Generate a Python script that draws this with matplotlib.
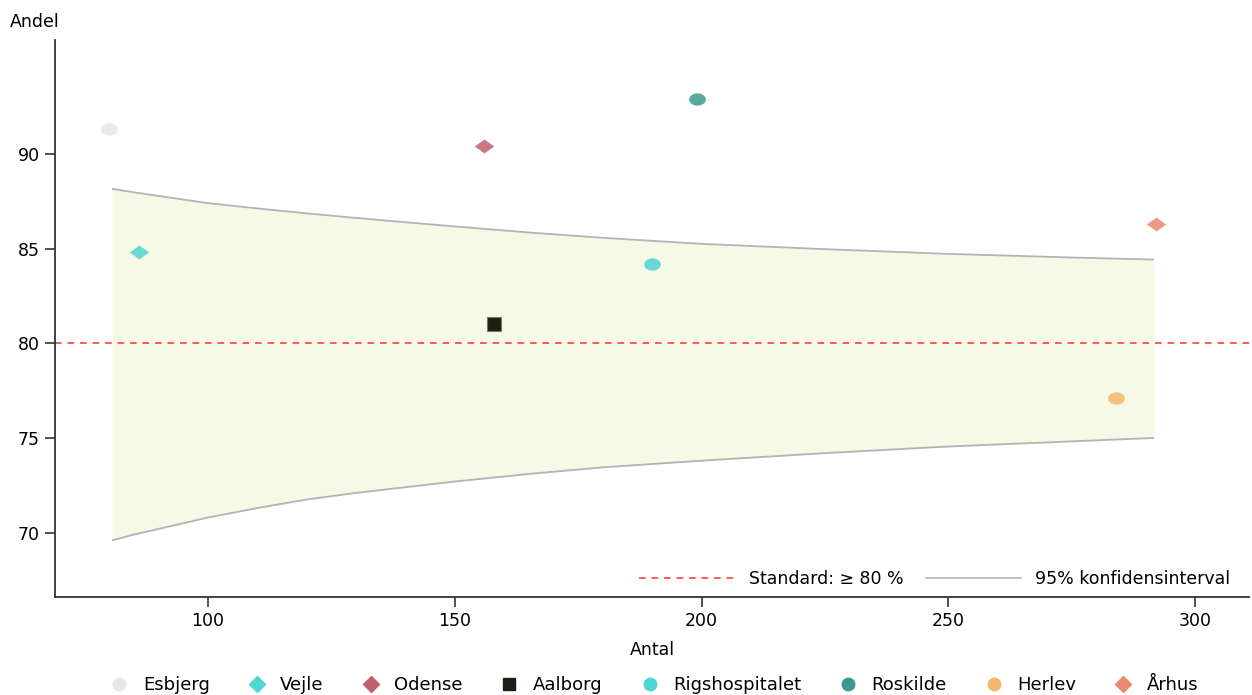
import numpy as np
import matplotlib.pyplot as plt
from matplotlib.lines import Line2D

plt.rcParams['font.family'] = ['DejaVu Sans']

# afdelinger: antal og andel
afdelinger = ['Esbjerg', 'Vejle', 'Odense', 'Aalborg', 'Rigshospitalet', 'Roskilde', 'Herlev', 'Århus']
antal = [80, 86, 156, 158, 190, 199, 284, 292]
andel = [91.3, 84.8, 90.4, 81.0, 84.2, 92.9, 77.1, 86.3]
farver = ['#e6e7e8', '#4fd5d2', '#c2606b', '#1e1e12', '#4fd5d2', '#3a9b8b', '#f4b76d', '#e98a6c']
markoerer = ['o', 'D', 'D', 's', 'o', 'o', 'o', 'D']

# 95% konfidensinterval (aflæst)
ki_antal = [80.7, 85, 90, 95, 100, 110, 120, 130, 140, 150, 165, 180, 200, 225, 250, 275, 291.5]
ki_oevre = [88.15, 87.97, 87.78, 87.59, 87.4, 87.12, 86.86, 86.62, 86.39, 86.17,
            85.85, 85.57, 85.25, 84.97, 84.72, 84.53, 84.42]
ki_nedre = [69.6, 69.9, 70.2, 70.5, 70.8, 71.3, 71.75, 72.1, 72.4, 72.7,
            73.1, 73.45, 73.8, 74.2, 74.55, 74.82, 75.0]

standard = 80

# lidt bredere markører
ellipse = [(np.cos(t) * 1.35, np.sin(t)) for t in np.linspace(0, 2 * np.pi, 40)]
rombe = [(-1.4, 0), (0, 1), (1.4, 0), (0, -1), (-1.4, 0)]
form = {'o': ellipse, 'D': rombe}

fig = plt.figure(figsize=(12.52, 6.95), dpi=100)
ax = fig.add_axes([0.044, 0.141, 0.954, 0.801])

ax.fill_between(ki_antal, ki_nedre, ki_oevre, color='#f7f9e7', zorder=1)
ax.plot(ki_antal, ki_oevre, color='#b4b4b4', lw=1.3, zorder=2)
ax.plot(ki_antal, ki_nedre, color='#b4b4b4', lw=1.3, zorder=2)
ax.axhline(standard, color='#ff4040', ls=(0, (4, 3.5)), lw=1.2, zorder=2)

for x, y, f, m in zip(antal, andel, farver, markoerer):
    if m == 's':
        ax.plot(x, y, marker='s', ms=10.5, color=f, mec='#777766', mew=0.8, ls='none', zorder=3)
    else:
        ax.plot(x, y, marker=form[m], ms=14 if m == 'D' else 12, color=f, mec='none',
                alpha=0.85, ls='none', zorder=3)

ax.set_xlim(69, 311)
ax.set_ylim(66.6, 96)
ax.set_xticks([100, 150, 200, 250, 300])
ax.set_yticks([70, 75, 80, 85, 90])
for s in ['top', 'right']:
    ax.spines[s].set_visible(False)
for s in ['left', 'bottom']:
    ax.spines[s].set_linewidth(1.3)
    ax.spines[s].set_color('#333333')
ax.tick_params(labelsize=12.5, length=7, width=1.2, color='#333333', pad=4)
ax.set_xlabel('Antal', fontsize=12.5, labelpad=8)
fig.text(0.008, 0.968, 'Andel', fontsize=12.5, va='center')

linjer = [Line2D([], [], color='#ff4040', ls=(0, (4, 3.5)), lw=1.2),
          Line2D([], [], color='#b4b4b4', lw=1.2)]
ax.legend(linjer, ['Standard: ≥ 80 %', '95% konfidensinterval'], loc='lower right',
          bbox_to_anchor=(0.997, -0.012), ncol=2, frameon=False, fontsize=12.5,
          handlelength=5.5, columnspacing=1.3, handletextpad=0.8)

punkter = [Line2D([], [], marker=m, color=f, ls='none', ms=9 if m == 'o' else 8)
           for f, m in zip(farver, markoerer)]
fig.legend(punkter, afdelinger, loc='center', bbox_to_anchor=(0.519, 0.014), ncol=8,
           frameon=False, fontsize=13, handletextpad=0.3, columnspacing=1.6)

fig.savefig('out.png', dpi=100)
